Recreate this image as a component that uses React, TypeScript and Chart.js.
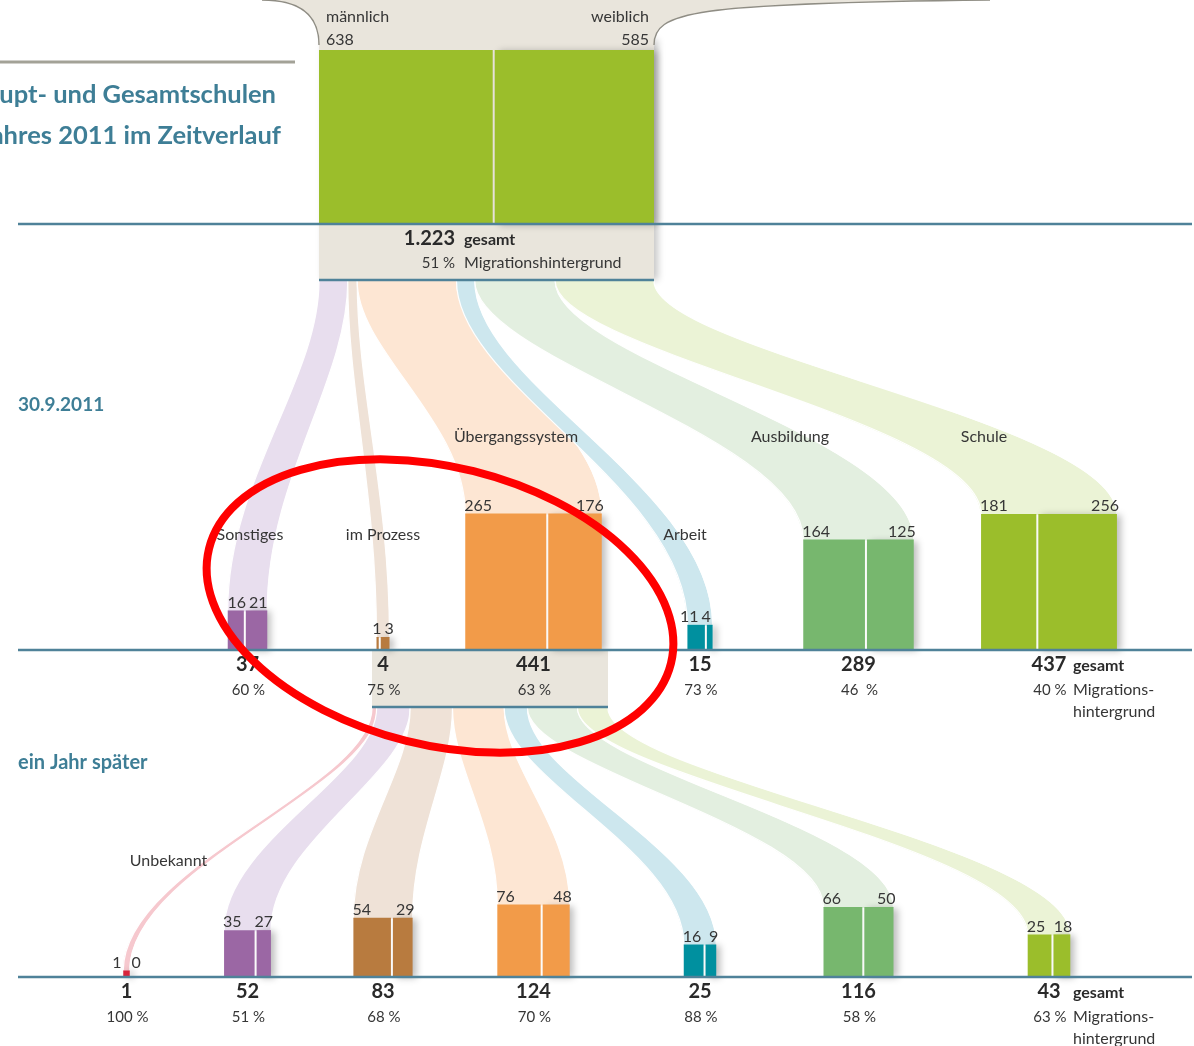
import React, { useEffect, useRef } from "react";
import { Chart, registerables } from "chart.js";

Chart.register(...registerables);

// ---------------- data ----------------
const categories = ["Unbekannt", "Sonstiges", "im Prozess", "Übergangssystem", "Arbeit", "Ausbildung", "Schule"];
const genderLabels = ["männlich", "weiblich"];
const startValues = [638, 585];
const startTotalLabel = "1.223";
const startMigrationLabel = "51 %";
const sep2011Male: (number | null)[] = [null, 16, 1, 265, 11, 164, 181];
const sep2011Female: (number | null)[] = [null, 21, 3, 176, 4, 125, 256];
const sep2011Total: (number | null)[] = [null, 37, 4, 441, 15, 289, 437];
const sep2011Migration: (string | null)[] = [null, "60 %", "75 %", "63 %", "73 %", "46  %", "40 %"];
const laterMale = [1, 35, 54, 76, 16, 66, 25];
const laterFemale = [0, 27, 29, 48, 9, 50, 18];
const laterTotal = [1, 52, 83, 124, 25, 116, 43];
const laterMigration = ["100 %", "51 %", "68 %", "70 %", "88 %", "58 %", "63 %"];
const titleLines = ["upt- und Gesamtschulen", "ahres 2011 im Zeitverlauf"];
const stageLabels = ["30.9.2011", "ein Jahr später"];
const totalWord = "gesamt";
const migrationWord = "Migrationshintergrund";
const migrationWordSplit = ["Migrations-", "hintergrund"];

// ---------------- layout / style ----------------
const W = 1194;
const H = 1046;
const columnX = [126.5, 247.5, 383, 533.5, 700, 858.5, 1049];
const baseY = [224, 650, 977];
const sideUnit = 6.5;
const splitGap = 2;
const startBox = { left: 319, right: 654, barTop: 50, bottom: 280 };
const transitBox = { left: 372, right: 608, bottom: 707 };
const sep2011LabelPos: ([number, number] | null)[] = [null, [250, 535], [383, 535], [516, 437], [685, 535], [790, 437], [984, 437]];
const laterLabelPos: ([number, number] | null)[] = [[168.5, 861], null, null, null, null, null, null];
const barColors = ["#d8253c", "#9b67a4", "#b87b3f", "#f29b49", "#00909f", "#77b76e", "#9bbe2b"];
const flowColors = ["#f6c8ce", "#e8deee", "#efe2d7", "#fde6d3", "#cde7ee", "#e3efe0", "#ebf3d6"];
const boxGray = "#e9e5dc";
const lineBlue = "#4f8299";
const titleBlue = "#3e7e96";
const textDark = "#363636";
const FONT = "Lato, 'Noto Sans', sans-serif";

const side = (v: number) => sideUnit * Math.sqrt(v);

type Half = { left: number; right: number; top: number; base: number; color: string; shadow: boolean; value: number; isMale: boolean };

function levelHalves(male: (number | null)[], female: (number | null)[], total: (number | null)[], base: number): Half[][] {
  return total.map((t, i) => {
    if (t == null) return [];
    const s = side(t);
    const left = columnX[i] - s / 2;
    const right = columnX[i] + s / 2;
    const m = male[i] as number;
    const f = female[i] as number;
    const mw = (s * m) / t;
    const top = base - s;
    const res: Half[] = [];
    if (f > 0) {
      res.push({ left, right: left + mw - splitGap / 2, top, base, color: barColors[i], shadow: false, value: m, isMale: true });
      res.push({ left: left + mw + splitGap / 2, right, top, base, color: barColors[i], shadow: true, value: f, isMale: false });
    } else {
      res.push({ left, right, top, base, color: barColors[i], shadow: true, value: m, isMale: true });
    }
    return res;
  });
}

const sepHalves = levelHalves(sep2011Male, sep2011Female, sep2011Total, baseY[1]);
const laterHalves = levelHalves(laterMale, laterFemale, laterTotal, baseY[2]);
const startSum = startValues[0] + startValues[1];
const startMaleW = ((startBox.right - startBox.left - splitGap) * startValues[0]) / startSum;
const startHalves: Half[] = [
  { left: startBox.left, right: startBox.left + startMaleW, top: startBox.barTop, base: baseY[0], color: barColors[6], shadow: false, value: startValues[0], isMale: true },
  { left: startBox.left + startMaleW + splitGap, right: startBox.right, top: startBox.barTop, base: baseY[0], color: barColors[6], shadow: true, value: startValues[1], isMale: false },
];

const allHalves: Half[] = [...startHalves, ...sepHalves.flat(), ...laterHalves.flat()];

function bandPath(ctx: CanvasRenderingContext2D, a0: number, a1: number, ya: number, b0: number, b1: number, yb: number, color: string) {
  const dy = yb - ya;
  const c1 = ya + 0.3 * dy;
  const c2 = ya + 0.6 * dy;
  ctx.beginPath();
  ctx.moveTo(a0, ya);
  ctx.bezierCurveTo(a0, c1, b0, c2, b0, yb);
  ctx.lineTo(b1, yb);
  ctx.bezierCurveTo(b1, c2, a1, c1, a1, ya);
  ctx.closePath();
  ctx.fillStyle = color;
  ctx.fill();
  ctx.strokeStyle = "#ffffff";
  ctx.lineWidth = 1.2;
  ctx.beginPath();
  ctx.moveTo(a0, ya);
  ctx.bezierCurveTo(a0, c1, b0, c2, b0, yb - 1);
  ctx.stroke();
  ctx.beginPath();
  ctx.moveTo(a1, ya);
  ctx.bezierCurveTo(a1, c1, b1, c2, b1, yb - 1);
  ctx.stroke();
}

function drawFlows(ctx: CanvasRenderingContext2D, X: (v: number) => number, Y: (v: number) => number, srcLeft: number, srcRight: number, srcY: number, totals: (number | null)[], targetBase: number) {
  const sides = totals.map((t) => (t == null ? 0 : side(t)));
  const sum = sides.reduce((a, b) => a + b, 0);
  const scale = (srcRight - srcLeft) / sum;
  let cur = srcLeft;
  sides.forEach((s, i) => {
    if (s === 0) return;
    const w = Math.max(s * scale, 6);
    const a0 = cur;
    const a1 = cur + w;
    cur = cur + s * scale;
    bandPath(ctx, X(a0), X(a1), Y(srcY), X(columnX[i] - s / 2), X(columnX[i] + s / 2), Y(targetBase - s + 1), flowColors[i]);
  });
}

function txt(ctx: CanvasRenderingContext2D, s: string, x: number, y: number, font: string, align: CanvasTextAlign, color = textDark) {
  ctx.font = font;
  ctx.textAlign = align;
  ctx.textBaseline = "middle";
  ctx.fillStyle = color;
  ctx.fillText(s, x, y);
}

function valueLabels(ctx: CanvasRenderingContext2D, halves: Half[], X: (v: number) => number, Y: (v: number) => number) {
  if (halves.length === 0) return;
  const font = `16px ${FONT}`;
  ctx.font = font;
  const left = halves[0].left;
  const right = halves[halves.length - 1].right;
  const top = halves[0].top;
  const mStr = String(halves[0].value);
  const fStr = halves.length > 1 ? String(halves[1].value) : "0";
  const mw = ctx.measureText(mStr).width;
  const fw = ctx.measureText(fStr).width;
  const y = Y(top) - 8;
  if (X(left) + mw + 3 > X(right) - fw) {
    const c = (X(left) + X(right)) / 2;
    const g = halves.length > 1 ? 1.5 : 5;
    txt(ctx, mStr, c - g, y, font, "right");
    txt(ctx, fStr, c + g, y, font, "left");
  } else {
    txt(ctx, mStr, X(left) - 1, y, font, "left");
    txt(ctx, fStr, X(right) + 2, y, font, "right");
  }
}

const diagramPlugin = {
  id: "diagram",
  beforeDatasetsDraw(chart: any) {
    const ctx: CanvasRenderingContext2D = chart.ctx;
    const X = (v: number) => chart.scales.x.getPixelForValue(v);
    const Y = (v: number) => chart.scales.y.getPixelForValue(v);
    ctx.save();
    // start box with shadow
    ctx.save();
    ctx.shadowColor = "rgba(0,0,0,0.22)";
    ctx.shadowBlur = 7;
    ctx.shadowOffsetX = 4;
    ctx.fillStyle = boxGray;
    ctx.fillRect(X(startBox.left), Y(40), X(startBox.right) - X(startBox.left), Y(startBox.bottom) - Y(40));
    ctx.restore();
    // flared top
    ctx.beginPath();
    ctx.moveTo(X(262), Y(0));
    ctx.bezierCurveTo(X(300), Y(0), X(startBox.left), Y(15), X(startBox.left), Y(45));
    ctx.lineTo(X(startBox.left), Y(60));
    ctx.lineTo(X(startBox.right), Y(60));
    ctx.lineTo(X(startBox.right), Y(45));
    ctx.bezierCurveTo(X(startBox.right), Y(12), X(690), Y(3), X(990), Y(0));
    ctx.closePath();
    ctx.fillStyle = boxGray;
    ctx.fill();
    ctx.strokeStyle = "#8f8d84";
    ctx.lineWidth = 1.4;
    ctx.beginPath();
    ctx.moveTo(X(262), Y(0));
    ctx.bezierCurveTo(X(300), Y(0), X(startBox.left), Y(15), X(startBox.left), Y(45));
    ctx.stroke();
    ctx.beginPath();
    ctx.moveTo(X(startBox.right), Y(45));
    ctx.bezierCurveTo(X(startBox.right), Y(12), X(690), Y(3), X(990), Y(0));
    ctx.stroke();
    // transit box
    ctx.fillStyle = boxGray;
    ctx.fillRect(X(transitBox.left), Y(baseY[1]), X(transitBox.right) - X(transitBox.left), Y(transitBox.bottom) - Y(baseY[1]));
    // flows
    drawFlows(ctx, X, Y, startBox.left, startBox.right, startBox.bottom + 1, sep2011Total, baseY[1]);
    drawFlows(ctx, X, Y, transitBox.left, transitBox.right, transitBox.bottom + 1, laterTotal, baseY[2]);
    ctx.restore();
  },
  beforeDatasetDraw(chart: any, args: any) {
    const ds = chart.data.datasets[args.index];
    if (ds.castShadow) {
      const ctx = chart.ctx;
      ctx.save();
      ctx.shadowColor = "rgba(0,0,0,0.26)";
      ctx.shadowBlur = 7;
      ctx.shadowOffsetX = 4;
      ctx.shadowOffsetY = 1;
    }
  },
  afterDatasetDraw(chart: any, args: any) {
    const ds = chart.data.datasets[args.index];
    if (ds.castShadow) chart.ctx.restore();
  },
  afterDatasetsDraw(chart: any) {
    const ctx: CanvasRenderingContext2D = chart.ctx;
    const X = (v: number) => chart.scales.x.getPixelForValue(v);
    const Y = (v: number) => chart.scales.y.getPixelForValue(v);
    ctx.save();
    // baselines
    ctx.strokeStyle = lineBlue;
    ctx.lineWidth = 2.5;
    const hline = (x0: number, x1: number, y: number) => {
      ctx.beginPath();
      ctx.moveTo(X(x0), Y(y));
      ctx.lineTo(X(x1), Y(y));
      ctx.stroke();
    };
    hline(18, 1192, baseY[0]);
    hline(startBox.left, startBox.right, startBox.bottom);
    hline(18, 1192, baseY[1]);
    hline(transitBox.left, transitBox.right, transitBox.bottom);
    hline(18, 1192, baseY[2]);
    // grey rule top-left
    ctx.strokeStyle = "#a3a297";
    ctx.lineWidth = 3;
    ctx.beginPath();
    ctx.moveTo(X(0), Y(62));
    ctx.lineTo(X(295), Y(62));
    ctx.stroke();

    // titles
    txt(ctx, titleLines[0], X(276), Y(95), `bold 25.5px ${FONT}`, "right", titleBlue);
    txt(ctx, titleLines[1], X(281), Y(136), `bold 25.5px ${FONT}`, "right", titleBlue);
    txt(ctx, stageLabels[0], X(18), Y(405), `bold 19px ${FONT}`, "left", titleBlue);
    txt(ctx, stageLabels[1], X(18), Y(763), `bold 20px ${FONT}`, "left", titleBlue);

    // start level labels
    const small = `16px ${FONT}`;
    txt(ctx, genderLabels[0], X(startBox.left + 7), Y(17), small, "left");
    txt(ctx, String(startValues[0]), X(startBox.left + 7), Y(40), small, "left");
    txt(ctx, genderLabels[1], X(startBox.right - 5), Y(17), small, "right");
    txt(ctx, String(startValues[1]), X(startBox.right - 5), Y(40), small, "right");
    const anchor = 460;
    txt(ctx, startTotalLabel, X(anchor - 5), Y(baseY[0] + 15), `bold 20px ${FONT}`, "right", "#2a2a2a");
    txt(ctx, totalWord, X(anchor + 4), Y(baseY[0] + 16), `bold 16px ${FONT}`, "left", "#2a2a2a");
    txt(ctx, startMigrationLabel, X(anchor - 5), Y(baseY[0] + 39), `15px ${FONT}`, "right");
    txt(ctx, migrationWord, X(anchor + 4), Y(baseY[0] + 39), small, "left");

    // levels
    const levels = [
      { halves: sepHalves, total: sep2011Total, mig: sep2011Migration, base: baseY[1], labels: sep2011LabelPos },
      { halves: laterHalves, total: laterTotal, mig: laterMigration, base: baseY[2], labels: laterLabelPos },
    ];
    levels.forEach((lv) => {
      lv.halves.forEach((h) => valueLabels(ctx, h, X, Y));
      lv.total.forEach((t, i) => {
        if (t == null) return;
        const cx = columnX[i];
        txt(ctx, String(t), X(cx), Y(lv.base + 15), `bold 20px ${FONT}`, "center", "#2a2a2a");
        txt(ctx, lv.mig[i] as string, X(cx + 1), Y(lv.base + 40), `15px ${FONT}`, "center");
        const pos = lv.labels[i];
        if (pos) txt(ctx, categories[i], X(pos[0]), Y(pos[1]), small, "center");
        if (i === lv.total.length - 1) {
          txt(ctx, totalWord, X(cx + 24), Y(lv.base + 16), `bold 16px ${FONT}`, "left", "#2a2a2a");
          txt(ctx, migrationWordSplit[0], X(cx + 24), Y(lv.base + 40), small, "left");
          txt(ctx, migrationWordSplit[1], X(cx + 24), Y(lv.base + 62), small, "left");
        }
      });
    });

    // red annotation ellipse
    ctx.strokeStyle = "#ff0000";
    ctx.lineWidth = 8;
    ctx.beginPath();
    ctx.ellipse(X(440), Y(606), 238, 139, (14 * Math.PI) / 180, 0, Math.PI * 2);
    ctx.stroke();
    ctx.restore();
  },
};

export default function App() {
  const ref = useRef<HTMLCanvasElement | null>(null);
  useEffect(() => {
    document.body.style.margin = "0";
    const canvas = ref.current;
    if (!canvas) return;
    const datasets = allHalves.map((h) => ({
      type: "bar" as const,
      label: "bar",
      data: [{ x: (h.left + h.right) / 2, y: [h.top, h.base] }],
      barThickness: h.right - h.left,
      backgroundColor: h.color,
      borderWidth: 0,
      grouped: false,
      inflateAmount: 0,
      castShadow: h.shadow,
    }));
    const chart = new Chart(canvas, {
      type: "bar",
      data: { datasets: datasets as any },
      options: {
        animation: false,
        responsive: false,
        events: [],
        layout: { padding: 0 },
        plugins: { legend: { display: false }, tooltip: { enabled: false } },
        scales: {
          x: { type: "linear", min: 0, max: W, offset: false, display: false },
          y: { type: "linear", min: 0, max: H, reverse: true, display: false },
        },
      } as any,
      plugins: [diagramPlugin as any],
    });
    return () => chart.destroy();
  }, []);
  return (
    <div style={{ width: W, height: H, background: "#ffffff" }}>
      <canvas ref={ref} width={W} height={H} style={{ display: "block" }} />
    </div>
  );
}
